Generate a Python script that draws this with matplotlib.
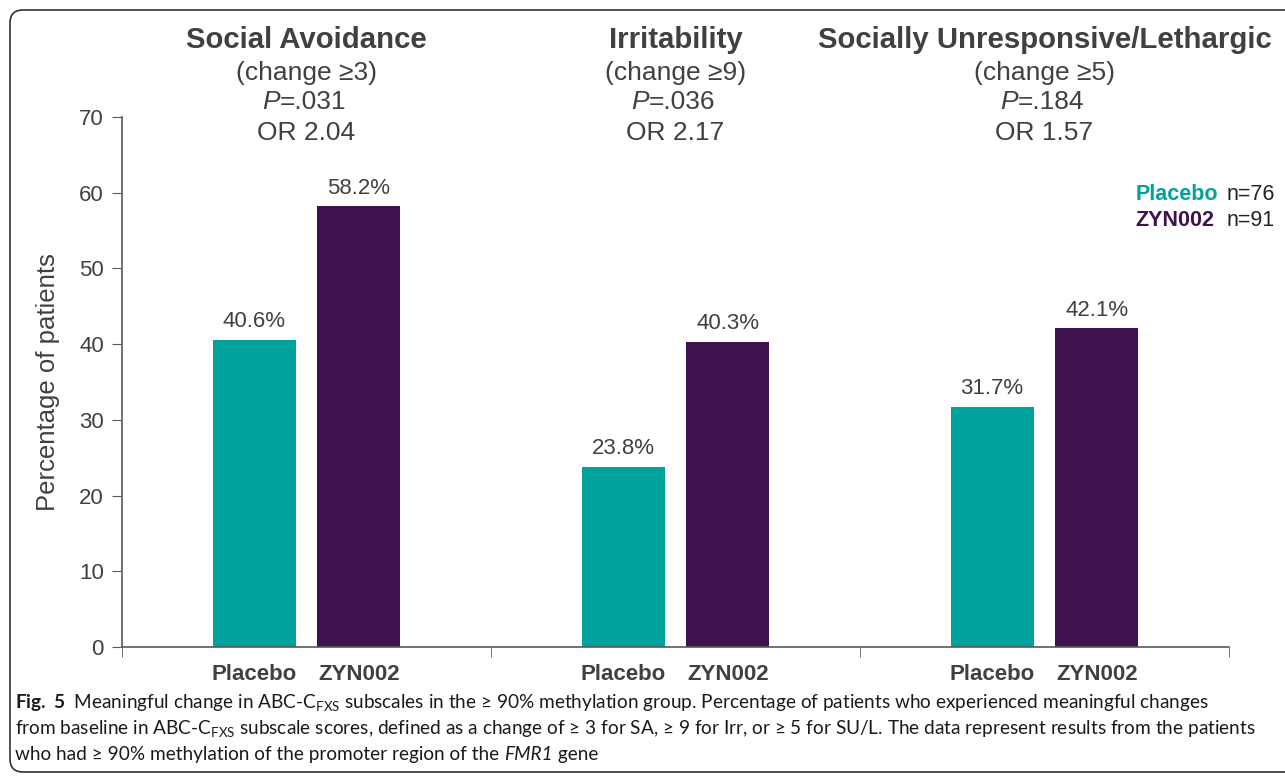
import numpy as np
import matplotlib.pyplot as plt
from matplotlib.patches import FancyBboxPatch

plt.rcParams['font.family'] = ['Liberation Sans', 'DejaVu Sans']
plt.rcParams['mathtext.fontset'] = 'custom'
plt.rcParams['mathtext.rm'] = 'Lato'
plt.rcParams['mathtext.it'] = 'Lato:italic'
plt.rcParams['mathtext.bf'] = 'Lato:bold'

# data
subscales = ["Social Avoidance", "Irritability", "Socially Unresponsive/Lethargic"]
thresholds = ["(change \u22653)", "(change \u22659)", "(change \u22655)"]
p_values = ["=.031", "=.036", "=.184"]
odds_ratios = ["OR 2.04", "OR 2.17", "OR 1.57"]
placebo = [40.6, 23.8, 31.7]
zyn002 = [58.2, 40.3, 42.1]
group_names = ["Placebo", "ZYN002"]
group_n = ["n=76", "n=91"]

TEAL = "#00A39B"
PURPLE = "#3F124F"
GREY = "#404040"

fig = plt.figure(figsize=(12.85, 7.76), dpi=100)
ax = fig.add_axes([122/1285, 1-647/776, 1107/1285, 530/776])

x = np.arange(len(subscales))
w = 0.225
off = 0.142
b1 = ax.bar(x - off, placebo, w, color=TEAL)
b2 = ax.bar(x + off, zyn002, w, color=PURPLE)

for bars, vals in ((b1, placebo), (b2, zyn002)):
    for b, v in zip(bars, vals):
        ax.annotate(f"{v}%", (b.get_x() + b.get_width()/2, v), xytext=(0, 5.5),
                    textcoords="offset points", ha="center", va="bottom",
                    fontsize=16, color=GREY)

ax.set_xlim(-0.5, 2.5)
ax.set_ylim(0, 70)
ax.set_yticks(range(0, 71, 10))
ax.set_xticks(np.concatenate([x - off, x + off]))
ax.set_xticklabels([group_names[0]]*3 + [group_names[1]]*3, fontsize=16,
                   fontweight="bold", color=GREY)
ax.set_xticks([-0.5, 0.5, 1.5, 2.5], minor=True)
ax.tick_params(axis="x", which="major", length=0, pad=12)
ax.tick_params(axis="x", which="minor", length=7, direction="out", color="#595959")
ax.tick_params(axis="y", length=7, pad=6, labelsize=16, labelcolor=GREY, color="#595959")
for s in ("top", "right"):
    ax.spines[s].set_visible(False)
for s in ("left", "bottom"):
    ax.spines[s].set_color("#595959")
    ax.spines[s].set_linewidth(1.2)
ax.set_ylabel("Percentage of patients", fontsize=18.5, color=GREY, labelpad=14)

# headers above each group
tr = ax.get_xaxis_transform()
for i in range(len(subscales)):
    ax.text(x[i], 1.145, subscales[i], transform=tr, ha="center", va="center",
            fontsize=21.2, fontweight="bold", color=GREY)
    ax.text(x[i], 1.083, thresholds[i], transform=tr, ha="center", va="center",
            fontsize=19, color=GREY)
    ax.annotate("P", (x[i], 1.028), xycoords=tr, xytext=(-19, 0),
                textcoords="offset points", ha="right", va="center",
                fontsize=19, style="italic", color=GREY)
    ax.annotate(p_values[i], (x[i], 1.028), xycoords=tr, xytext=(-19, 0),
                textcoords="offset points", ha="left", va="center",
                fontsize=19, color=GREY)
    ax.text(x[i], 0.970, odds_ratios[i], transform=tr, ha="center", va="center",
            fontsize=19, color=GREY)

# legend text
for j, (name, col, yy) in enumerate(zip(group_names, [TEAL, PURPLE], [1-195/776, 1-221/776])):
    fig.text([1218, 1214][j]/1285, yy, name, ha="right", va="center",
             fontsize=15.5, fontweight="bold", color=col)
    fig.text(1275/1285, yy, group_n[j], ha="right", va="center",
             fontsize=15.5, color="#222222")

# frame
frame = FancyBboxPatch((0.10, 0.04), 13.2, 7.62, boxstyle="round,pad=0,rounding_size=0.13",
                       transform=fig.dpi_scale_trans, fill=False, ec="#333333", lw=1.2)
fig.patches.append(frame)

# caption, written piece by piece so the italic gene name can sit inline
cap_font = ['Lato', 'DejaVu Sans']
ge = "\u2265"
lines = [
    [(r"$\mathbf{Fig.\ 5}$  Meaningful change in ABC-$\mathrm{C}_{\mathrm{FXS}}$ subscales in the " + ge +
      " 90% methylation group. Percentage of patients who experienced meaningful changes", {})],
    [(r"from baseline in ABC-$\mathrm{C}_{\mathrm{FXS}}$ subscale scores, defined as a change of " + ge +
      " 3 for SA, " + ge + " 9 for Irr, or " + ge + " 5 for SU/L. The data represent results from the patients", {})],
    [("who had " + ge + " 90% methylation of the promoter region of the ", {}),
     ("FMR1", {"style": "italic"}),
     (" gene", {})],
]
renderer = fig.canvas.get_renderer()
for k, pieces in enumerate(lines):
    xpix = 15
    for txt, kw in pieces:
        t = fig.text(xpix/1285, 1 - (708 + 26*k)/776, txt, ha="left", va="baseline",
                     fontsize=13.7, family=cap_font, color="#1a1a1a", **kw)
        xpix += t.get_window_extent(renderer).width

fig.savefig("out.png", dpi=100)
